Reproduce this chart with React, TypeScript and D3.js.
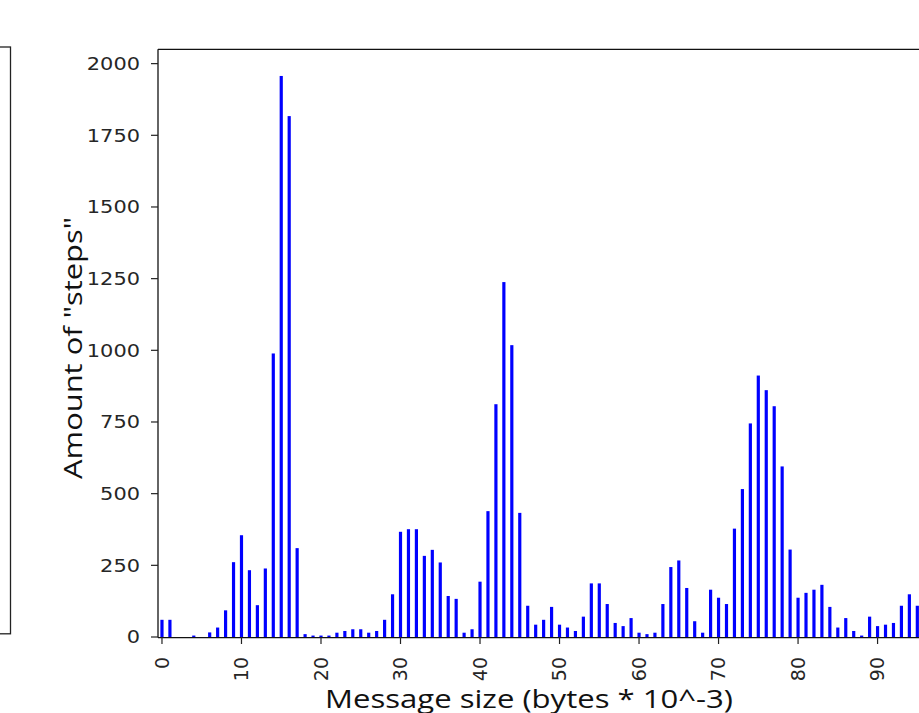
import React from "react";
import * as d3 from "d3";

const sizes: number[] = Array.from({ length: 96 }, (_, i) => i);
const steps: number[] = [
  60, 60, 0, 0, 5, 0, 16, 33, 93, 261,
  355, 233, 111, 239, 989, 1957, 1817, 310, 10, 5,
  5, 5, 15, 21, 27, 27, 15, 21, 60, 149,
  367, 376, 376, 283, 304, 260, 143, 133, 15, 27,
  193, 439, 812, 1238, 1018, 433, 109, 43, 60, 105,
  43, 33, 21, 71, 187, 187, 115, 49, 38, 66,
  15, 10, 15, 115, 244, 267, 171, 55, 15, 165,
  137, 115, 378, 516, 745, 912, 861, 805, 595, 305,
  137, 154, 165, 182, 105, 33, 66, 21, 5, 71,
  38, 43, 49, 109, 149, 109,
];
const yTicks: number[] = [0, 250, 500, 750, 1000, 1250, 1500, 1750, 2000];
const xTicks: number[] = [0, 10, 20, 30, 40, 50, 60, 70, 80, 90];
const xLabel = "Message size (bytes * 10^-3)";
const yLabel = 'Amount of "steps"';

export default function App() {
  const W = 919;
  const H = 713;
  const left = 158;
  const top = 49.3;
  const bottom = 637;
  const step = 7.951;

  const x = d3
    .scaleBand<number>()
    .domain(sizes)
    .range([left, left + sizes.length * step])
    .paddingInner(0.6)
    .paddingOuter(0.3);
  const y = d3.scaleLinear().domain([0, 2050]).range([bottom, top]);
  const bw = x.bandwidth();
  const cx = (d: number) => (x(d) as number) + bw / 2;

  return (
    <svg
      width={W}
      height={H}
      style={{ position: "absolute", left: 0, top: 0, background: "#fff" }}
    >
      <rect x={0} y={0} width={W} height={H} fill="#fff" />
      {/* partial neighbouring panel */}
      <rect x={-2} y={47} width={12.5} height={586.8} fill="none" stroke="#222" strokeWidth={1.3} />

      {/* bars */}
      <g>
        {sizes.map((s, i) => (
          <rect
            key={s}
            x={x(s) as number}
            y={y(steps[i])}
            width={bw}
            height={bottom - y(steps[i])}
            fill="#0000ff"
          />
        ))}
      </g>

      {/* spines */}
      <line x1={left} y1={top} x2={W + 5} y2={top} stroke="#111" strokeWidth={1.3} />
      <line x1={left} y1={top} x2={left} y2={bottom + 0.6} stroke="#111" strokeWidth={1.3} />
      <line x1={left} y1={bottom + 0.6} x2={W + 5} y2={bottom + 0.6} stroke="#111" strokeWidth={1.3} />

      {/* y ticks */}
      <g fontFamily="DejaVu Sans" fontSize={18} fill="#262626">
        {yTicks.map((t) => (
          <g key={t}>
            <line x1={left - 7} x2={left} y1={y(t)} y2={y(t)} stroke="#222" strokeWidth={1.2} />
            <text
              x={140}
              y={y(t)}
              dy="0.36em"
              textAnchor="end"
              textLength={String(t).length * 13.3}
              lengthAdjust="spacingAndGlyphs"
            >
              {t}
            </text>
          </g>
        ))}
      </g>

      {/* x ticks */}
      <g fontFamily="DejaVu Sans" fontSize={19} fill="#262626">
        {xTicks.map((t) => (
          <g key={t}>
            <line x1={cx(t)} x2={cx(t)} y1={bottom} y2={bottom + 7} stroke="#222" strokeWidth={1.2} />
            <text
              transform={`translate(${cx(t)},657) rotate(-90)`}
              dy="0.36em"
              textAnchor="end"
            >
              {t}
            </text>
          </g>
        ))}
      </g>

      {/* axis labels */}
      <text
        transform="translate(82,348) rotate(-90)"
        textAnchor="middle"
        fontFamily="Open Sans"
        fontSize={26}
        fill="#111"
        textLength={262}
        lengthAdjust="spacingAndGlyphs"
      >
        {yLabel}
      </text>
      <text
        x={529}
        y={708.3}
        textAnchor="middle"
        fontFamily="Open Sans"
        fontSize={25.5}
        fill="#111"
        textLength={408}
        lengthAdjust="spacingAndGlyphs"
      >
        {xLabel}
      </text>
    </svg>
  );
}
